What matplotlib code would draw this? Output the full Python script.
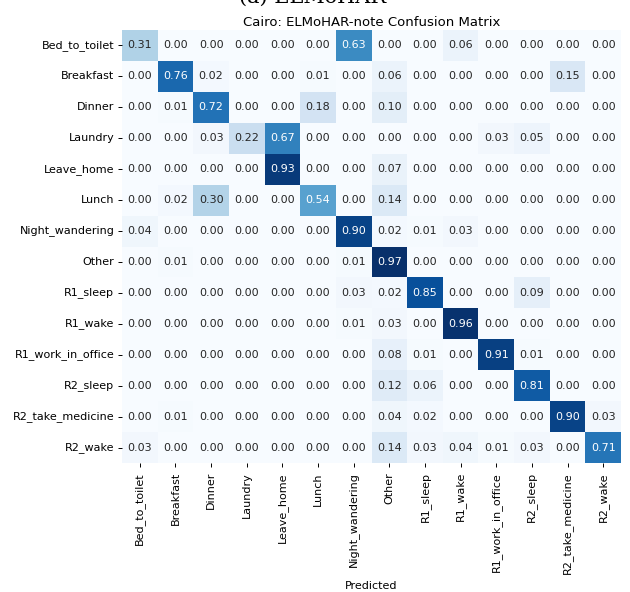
import numpy as np
import matplotlib
matplotlib.use("Agg")
import matplotlib.pyplot as plt
import seaborn as sns

labels = ["Bed_to_toilet", "Breakfast", "Dinner", "Laundry", "Leave_home", "Lunch",
          "Night_wandering", "Other", "R1_sleep", "R1_wake", "R1_work_in_office",
          "R2_sleep", "R2_take_medicine", "R2_wake"]

row_bed_to_toilet = [0.31, 0.00, 0.00, 0.00, 0.00, 0.00, 0.63, 0.00, 0.00, 0.06, 0.00, 0.00, 0.00, 0.00]
row_breakfast     = [0.00, 0.76, 0.02, 0.00, 0.00, 0.01, 0.00, 0.06, 0.00, 0.00, 0.00, 0.00, 0.15, 0.00]
row_dinner        = [0.00, 0.01, 0.72, 0.00, 0.00, 0.18, 0.00, 0.10, 0.00, 0.00, 0.00, 0.00, 0.00, 0.00]
row_laundry       = [0.00, 0.00, 0.03, 0.22, 0.67, 0.00, 0.00, 0.00, 0.00, 0.00, 0.03, 0.05, 0.00, 0.00]
row_leave_home    = [0.00, 0.00, 0.00, 0.00, 0.93, 0.00, 0.00, 0.07, 0.00, 0.00, 0.00, 0.00, 0.00, 0.00]
row_lunch         = [0.00, 0.02, 0.30, 0.00, 0.00, 0.54, 0.00, 0.14, 0.00, 0.00, 0.00, 0.00, 0.00, 0.00]
row_night         = [0.04, 0.00, 0.00, 0.00, 0.00, 0.00, 0.90, 0.02, 0.01, 0.03, 0.00, 0.00, 0.00, 0.00]
row_other         = [0.00, 0.01, 0.00, 0.00, 0.00, 0.00, 0.01, 0.97, 0.00, 0.00, 0.00, 0.00, 0.00, 0.00]
row_r1_sleep      = [0.00, 0.00, 0.00, 0.00, 0.00, 0.00, 0.03, 0.02, 0.85, 0.00, 0.00, 0.09, 0.00, 0.00]
row_r1_wake       = [0.00, 0.00, 0.00, 0.00, 0.00, 0.00, 0.01, 0.03, 0.00, 0.96, 0.00, 0.00, 0.00, 0.00]
row_r1_work       = [0.00, 0.00, 0.00, 0.00, 0.00, 0.00, 0.00, 0.08, 0.01, 0.00, 0.91, 0.01, 0.00, 0.00]
row_r2_sleep      = [0.00, 0.00, 0.00, 0.00, 0.00, 0.00, 0.00, 0.12, 0.06, 0.00, 0.00, 0.81, 0.00, 0.00]
row_r2_medicine   = [0.00, 0.01, 0.00, 0.00, 0.00, 0.00, 0.00, 0.04, 0.02, 0.00, 0.00, 0.00, 0.90, 0.03]
row_r2_wake       = [0.03, 0.00, 0.00, 0.00, 0.00, 0.00, 0.00, 0.14, 0.03, 0.04, 0.01, 0.03, 0.00, 0.71]

cm = np.array([row_bed_to_toilet, row_breakfast, row_dinner, row_laundry, row_leave_home,
               row_lunch, row_night, row_other, row_r1_sleep, row_r1_wake, row_r1_work,
               row_r2_sleep, row_r2_medicine, row_r2_wake])

fs = 8
fig = plt.figure(figsize=(6.3, 5.92), dpi=100)
ax = fig.add_axes([122/630, 1 - 463/592, (621-122)/630, (463-30)/592])
sns.heatmap(cm, annot=True, fmt=".2f", cmap="Blues", cbar=False,
            xticklabels=labels, yticklabels=labels, ax=ax,
            annot_kws={"fontsize": fs})
ax.set_title("Cairo: ELMoHAR-note Confusion Matrix", fontsize=9.5, pad=3)
ax.set_xlabel("Predicted", fontsize=fs, labelpad=5)
ax.tick_params(axis="x", labelrotation=90, labelsize=fs, length=3, width=0.7, pad=3.5)
ax.tick_params(axis="y", labelrotation=0, labelsize=fs, length=3, width=0.7, pad=2.5)

fig.text(313/630, 1 - 2.5/592, "(a) ELMoHAR", ha="center", va="baseline",
         fontsize=15, family="DejaVu Serif")

fig.savefig("out.png", dpi=100)
